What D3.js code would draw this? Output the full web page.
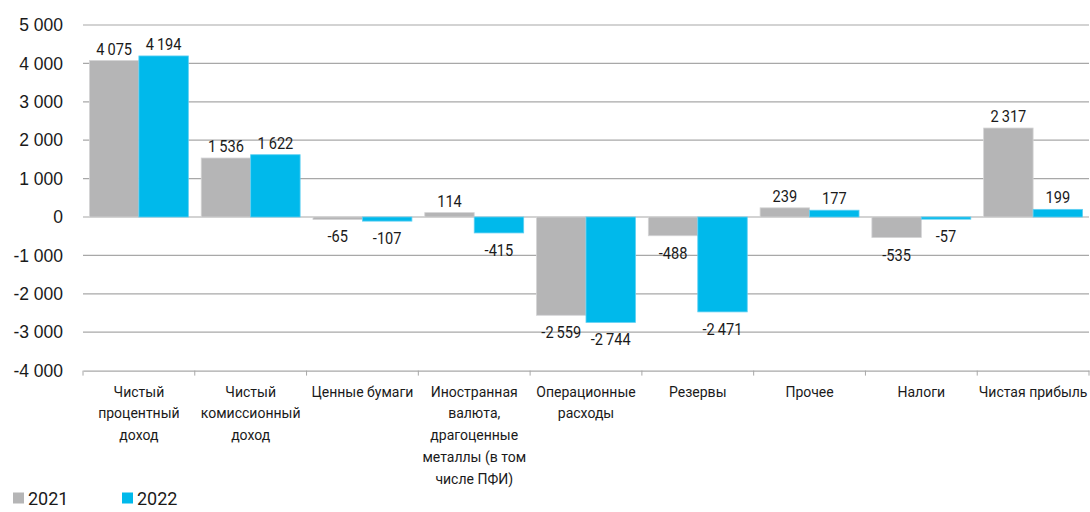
<!DOCTYPE html>
<html>
<head>
<meta charset="utf-8">
<script src="https://cdn.jsdelivr.net/npm/d3@7"></script>
<style>
  html, body { margin: 0; padding: 0; background: #fff; }
  svg { display: block; }
</style>
</head>
<body>
<svg id="chart" width="1090" height="512"></svg>
<script>
const categories = [
  "Чистый\nпроцентный\nдоход",
  "Чистый\nкомиссионный\nдоход",
  "Ценные бумаги",
  "Иностранная\nвалюта,\nдрагоценные\nметаллы (в том\nчисле ПФИ)",
  "Операционные\nрасходы",
  "Резервы",
  "Прочее",
  "Налоги",
  "Чистая прибыль"
];
const seriesNames = ["2021", "2022"];
const values2021 = [4075, 1536, -65, 114, -2559, -488, 239, -535, 2317];
const values2022 = [4194, 1622, -107, -415, -2744, -2471, 177, -57, 199];
const yTicks = [5000, 4000, 3000, 2000, 1000, 0, -1000, -2000, -3000, -4000];

(function () {
const colors = { "2021": "#b5b5b6", "2022": "#00b9eb" };
const strokes = { "2021": "#d4d4d5", "2022": "#5fcff2" };

const svg = d3.select("#chart");
const mLeft = 83, mRight = 1089, mTop = 25, mBottom = 370.6;

const locale = d3.formatLocale({ decimal: ",", thousands: "\u2009", grouping: [3], minus: "-" });
const fmt = locale.format(",d");
const locale2 = d3.formatLocale({ decimal: ",", thousands: " ", grouping: [3], minus: "-" });
const fmtAxis = locale2.format(",d");

const x = d3.scaleBand().domain(categories).range([mLeft, mRight]).paddingInner(0).paddingOuter(0);
const x1 = d3.scaleBand().domain(seriesNames).range([0, x.bandwidth()]).paddingInner(0).paddingOuter(0.13);
const y = d3.scaleLinear().domain([-4000, 5000]).range([mBottom, mTop]);

svg.append("g").selectAll("line").data(yTicks.filter(d => d !== -4000)).join("line")
  .attr("x1", mLeft).attr("x2", mRight)
  .attr("y1", d => y(d)).attr("y2", d => y(d))
  .attr("stroke", "#a8a8a8").attr("stroke-width", 1.2);

const yAxis = d3.axisLeft(y).tickValues(yTicks).tickFormat(fmtAxis).tickSize(0).tickPadding(20);
const gy = svg.append("g").attr("transform", `translate(${mLeft},0)`).call(yAxis);
gy.select(".domain").remove();
gy.selectAll("text").attr("font-family", "Arial, 'Liberation Sans', sans-serif").attr("font-size", 17.5).attr("fill", "#1a1a1a");

const rows = categories.map((c, i) => ({ cat: c, vals: [
  { key: "2021", v: values2021[i] }, { key: "2022", v: values2022[i] }
]}));

const groups = svg.append("g").selectAll("g").data(rows).join("g")
  .attr("transform", d => `translate(${x(d.cat)},0)`);

groups.selectAll("rect").data(d => d.vals).join("rect")
  .attr("x", d => x1(d.key))
  .attr("width", x1.bandwidth())
  .attr("y", d => y(Math.max(0, d.v)))
  .attr("height", d => Math.abs(y(d.v) - y(0)))
  .attr("fill", d => colors[d.key])
  .attr("stroke", d => strokes[d.key]).attr("stroke-width", 0.8);

groups.selectAll("text.val").data(d => d.vals).join("text")
  .attr("class", "val")
  .attr("transform", d => `translate(${x1(d.key) + x1.bandwidth() / 2},${d.v >= 0 ? y(d.v) - 6 : y(d.v) + 23}) scale(0.86,1)`)
  .attr("text-anchor", "middle")
  .attr("font-family", "Roboto, sans-serif")
  .attr("font-size", 17)
  .attr("fill", "#1a1a1a")
  .text(d => fmt(d.v));

const xAxis = d3.axisBottom(x).tickSize(0).tickFormat("");
const gx = svg.append("g").attr("transform", `translate(0,${mBottom})`).call(xAxis);
gx.select(".domain").attr("stroke", "#a8a8a8").attr("stroke-width", 1.2);
const bounds = categories.map(c => x(c)).concat([mRight]);
svg.append("g").selectAll("line").data(bounds).join("line")
  .attr("x1", d => d).attr("x2", d => d)
  .attr("y1", mBottom).attr("y2", mBottom + 5)
  .attr("stroke", "#a8a8a8").attr("stroke-width", 1);

const catG = svg.append("g").selectAll("text").data(categories).join("text")
  .attr("text-anchor", "middle")
  .attr("font-family", "Roboto, 'Open Sans', sans-serif")
  .attr("font-size", 14)
  .attr("fill", "#1a1a1a")
  .attr("transform", d => `translate(${x(d) + x.bandwidth() / 2},${mBottom + 26})`);
catG.each(function(d) {
  const t = d3.select(this);
  d.split("\n").forEach((line, i) => {
    t.append("tspan").attr("x", 0).attr("y", i * 21.8).text(line);
  });
});

const legend = svg.append("g").attr("transform", "translate(13,499)");
const li = legend.selectAll("g").data(seriesNames).join("g")
  .attr("transform", (d, i) => `translate(${i * 109},0)`);
li.append("rect").attr("x", 0).attr("y", -6.5).attr("width", 11).attr("height", 11)
  .attr("fill", d => colors[d]);
li.append("text").attr("x", 15).attr("y", 5.5)
  .attr("font-family", "Roboto, 'Open Sans', sans-serif").attr("font-size", 18)
  .attr("fill", "#1a1a1a").text(d => d);
})();
</script>
</body>
</html>
